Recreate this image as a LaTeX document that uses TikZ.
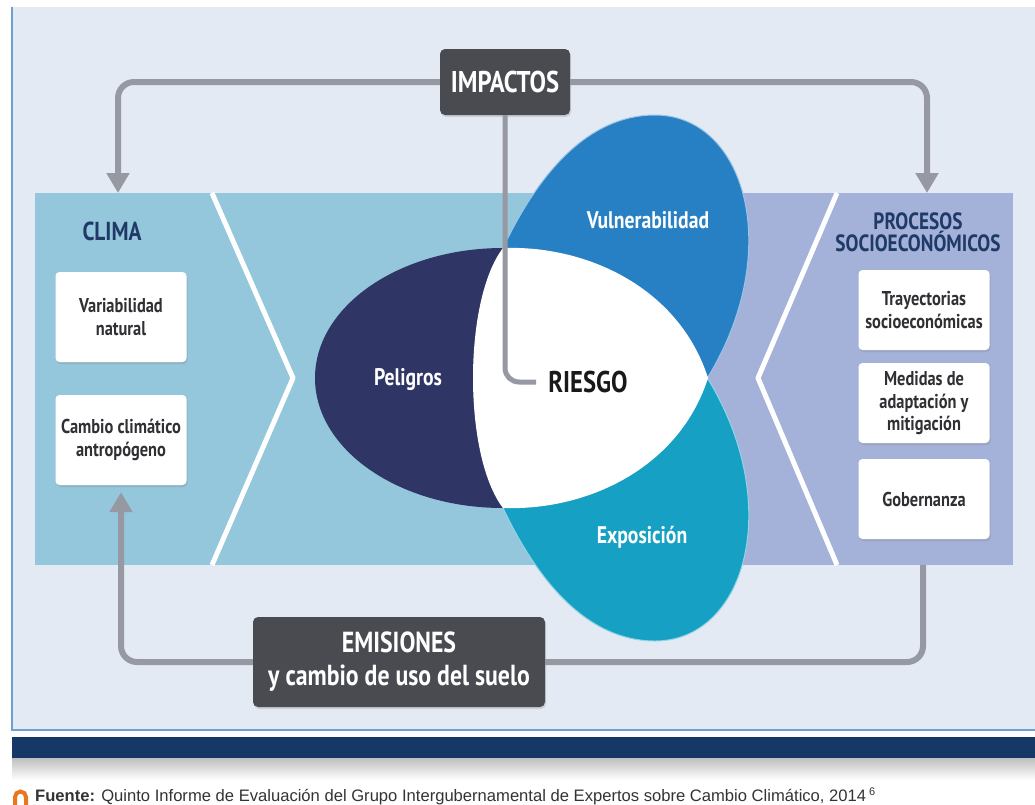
\documentclass[tikz,border=0pt]{standalone}
\usepackage{fontspec}
\setmainfont{PT Sans}
\newfontfamily\labfont[FakeStretch=0.82]{PT Sans}
\newfontfamily\srcfont{Liberation Sans}
\usepackage{tikz}
\usetikzlibrary{arrows.meta}
\usetikzlibrary{shadows}

\definecolor{panelbg}{RGB}{228,234,244}
\definecolor{framecol}{RGB}{110,160,210}
\definecolor{bandnavy}{RGB}{22,56,102}
\definecolor{climablue}{RGB}{148,198,220}
\definecolor{lavender}{RGB}{164,177,216}
\definecolor{peligroscol}{RGB}{47,53,101}
\definecolor{vulcol}{RGB}{40,128,196}
\definecolor{expcol}{RGB}{22,160,196}
\definecolor{boxgray}{RGB}{74,75,80}
\definecolor{arrowgray}{RGB}{150,152,162}
\definecolor{navytext}{RGB}{31,58,102}
\definecolor{textgray}{RGB}{48,48,52}
\definecolor{srcorange}{RGB}{232,119,34}

\begin{document}
\begin{tikzpicture}[x=1pt, y=-1pt, font=\labfont\bfseries,
    conn/.style={draw=arrowgray, line width=6pt, rounded corners=16pt},
    tip/.style={-{Triangle[width=22pt,length=20pt]}},
    wbox/.style={fill=white, rounded corners=4pt, align=center, text=textgray,
        minimum width=131pt, inner sep=2pt,
        font=\labfont\bfseries\fontsize{20}{22.5}\selectfont,
        drop shadow={shadow xshift=1pt, shadow yshift=-2pt, opacity=0.25}},
    gbox/.style={fill=boxgray, rounded corners=5pt, align=center, text=white,
        drop shadow={shadow xshift=1pt, shadow yshift=-2pt, opacity=0.25}},
    leaftext/.style={text=white, font=\labfont\bfseries\fontsize{24}{26}\selectfont},
    headtext/.style={text=navytext, align=center, font=\labfont\bfseries\fontsize{23.5}{22}\selectfont}]

    \useasboundingbox (0,0) rectangle (1035,804);

    % frame and band
    \fill[panelbg] (12,7) rectangle (1035,730);
    \draw[framecol, line width=1.2pt] (12,7) -- (12,730) -- (1035,730);
    \fill[bandnavy] (12,737) rectangle (1035,758);
    \shade[top color=black!25, bottom color=white] (12,758) rectangle (1035,780);

    % panels
    \fill[climablue] (35,193) rectangle (710,565);
    \fill[lavender] (708,193) rectangle (1013,565);
    \draw[white, line width=5pt, line join=round] (212,193) -- (293,378) -- (212,565);
    \draw[white, line width=5pt, line join=round] (837,193) -- (758,378) -- (837,565);

    \coordinate (climatop) at (118,193);
    \coordinate (proctop) at (927,193);
    \coordinate (procbot) at (923,565);

    % petals
    \fill[peligroscol] (503,378) ellipse [x radius=188pt, y radius=130pt];
    \filldraw[fill=vulcol, draw=white!55!vulcol, line width=1pt] (503,248)
        .. controls (540,170) and (590,115) .. (655,115)
        .. controls (745,115) and (785,250) .. (708,377) -- cycle;
    \filldraw[fill=expcol, draw=white!55!expcol, line width=1pt] (503,508)
        .. controls (540,586) and (590,641) .. (655,641)
        .. controls (745,641) and (785,506) .. (708,379) -- cycle;
    \fill[white] (503,248) .. controls (590,245) and (680,290) .. (708,378)
        .. controls (680,466) and (590,511) .. (503,508)
        .. controls (463,456) and (463,300) .. cycle;

    \node[leaftext] (pel) at (408,380) {Peligros};
    \node[leaftext] (vul) at (648,220) {Vulnerabilidad};
    \node[leaftext] (exp) at (642,537) {Exposición};
    \node[text=black!90, inner sep=12pt, font=\labfont\bfseries\fontsize{30}{32}\selectfont] (riesgo) at (588,382) {RIESGO};

    % side texts and boxes
    \node[headtext, font=\labfont\bfseries\fontsize{26}{26}\selectfont] (clima) at (112,231) {CLIMA};
    \node[headtext] (proc) at (918,232) {PROCESOS\\SOCIOECONÓMICOS};

    \node[wbox, minimum height=90pt] (var) at (121,317) {Variabilidad\\natural};
    \node[wbox, minimum height=90pt] (cam) at (121,440) {Cambio climático\\antropógeno};
    \node[wbox, minimum height=80pt] (tra) at (924,310) {Trayectorias\\socioeconómicas};
    \node[wbox, minimum height=80pt] (med) at (924,403) {Medidas de\\adaptación y\\mitigación};
    \node[wbox, minimum height=80pt] (gob) at (924,499) {Gobernanza};

    % impactos and emisiones
    \node[gbox, minimum width=130pt, minimum height=66pt, font=\labfont\bfseries\fontsize{30}{32}\selectfont] (imp) at (505,82) {IMPACTOS};
    \node[gbox, minimum width=292pt, minimum height=90pt, font=\labfont\bfseries\fontsize{29}{33}\selectfont] (emi) at (399,662) {EMISIONES\\y cambio de uso del suelo};

    \draw[conn, tip] (imp.west) -| (climatop);
    \draw[conn, tip] (imp.east) -| (proctop);
    \draw[conn, line width=5pt, rounded corners=14pt] (imp.south) |- (riesgo.west);
    \draw[conn, tip] (emi.west) -| ([yshift=-7pt]cam.south);
    \draw[conn] (emi.east) -| (procbot);

    % source line
    \draw[srcorange, line width=4pt] (15,806) -- (15,797) arc[start angle=180, end angle=0, radius=5.5pt] -- (26,806);
    \node[anchor=base west, inner sep=0pt, text=black!80, font=\srcfont\fontsize{16.6}{18}\selectfont] (src) at (35,801)
        {\textbf{Fuente:} Quinto Informe de Evaluación del Grupo Intergubernamental de Expertos sobre Cambio Climático, 2014\,\raisebox{6pt}{\fontsize{11}{12}\selectfont 6}};

\end{tikzpicture}
\end{document}
